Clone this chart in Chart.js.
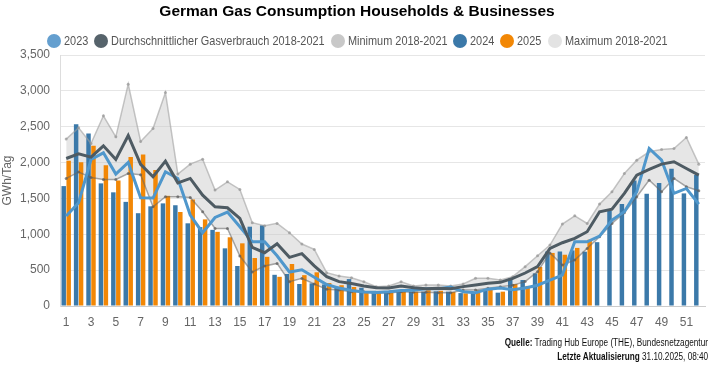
<!DOCTYPE html>
<html><head><meta charset="utf-8">
<script src="https://cdn.jsdelivr.net/npm/chart.js@4.4.0/dist/chart.umd.min.js"></script>
<style>
html,body{margin:0;padding:0;background:#fff;width:714px;height:366px;overflow:hidden;font-family:'Liberation Sans',Arial,sans-serif;}
#wrap{position:relative;width:714px;height:366px;}
canvas{position:absolute;left:0;top:0;}
#title{position:absolute;top:2px;left:0;width:714px;text-align:center;font:bold 15.5px 'Liberation Sans',Arial,sans-serif;color:#000;}
#legend{position:absolute;top:33px;left:0;width:714px;display:flex;justify-content:center;align-items:center;font-size:13px;color:#555;}
.item{display:flex;align-items:center;margin:0 3px;white-space:nowrap;}
.dot{width:14px;height:14px;border-radius:50%;margin-right:3px;display:inline-block;flex:none;}
.txt{display:inline-block;transform-origin:left center;}
#src{position:absolute;right:6px;top:336px;font-size:10px;text-align:right;line-height:14px;color:#111;}
#src div span{display:inline-block;transform:scaleX(0.82);transform-origin:right center;white-space:nowrap;}
</style></head>
<body><div id="wrap">
<canvas id="c" width="714" height="366"></canvas>
<div id="title">German Gas Consumption Households &amp; Businesses</div>
<div id="legend"></div>
<div id="src"><div><span><b>Quelle:</b> Trading Hub Europe (THE), Bundesnetzagentur</span></div><div><span><b>Letzte Aktualisierung</b> 31.10.2025, 08:40</span></div></div>
</div>
<script>
const weeks = ['1','2','3','4','5','6','7','8','9','10','11','12','13','14','15','16','17','18','19','20','21','22','23','24','25','26','27','28','29','30','31','32','33','34','35','36','37','38','39','40','41','42','43','44','45','46','47','48','49','50','51','52'];
const shownTicks = ['1','3','5','7','9','11','13','15','17','19','21','23','25','27','29','31','33','35','37','39','41','43','45','47','49','51'];
const yTicks = [0,500,1000,1500,2000,2500,3000,3500];

const data2023 = [1254,1440,2043,2136,1839,2002,1509,1505,1872,1779,1268,1022,1235,1310,1105,896,896,700,474,505,400,300,250,215,195,190,200,215,220,240,240,265,200,185,235,250,228,250,290,360,432,896,896,975,1198,1314,1593,2197,2034,1570,1639,1421];
const avg1821 = [2057,2122,2076,2234,2043,2378,1974,1802,2020,1718,1779,1546,1384,1370,1221,817,743,868,678,730,560,410,340,315,279,255,250,280,255,240,246,240,270,293,316,330,385,460,549,803,882,943,1036,1314,1351,1570,1825,1904,1978,2011,1918,1825];
const min1821 = [1779,1867,1793,1765,1765,1848,1830,1384,1523,1523,1514,1314,1082,1082,697,474,557,594,339,385,307,232,223,200,200,186,180,200,190,190,186,186,223,223,246,270,290,340,479,740,571,641,803,966,1152,1300,1523,1755,1593,1779,1663,1607];
const data2024 = [1672,2536,2405,1710,1585,1452,1294,1390,1431,1405,1153,1100,1062,804,558,1106,1125,435,446,307,316,300,270,375,255,200,200,215,200,200,205,200,180,190,220,186,385,362,455,760,760,775,758,890,1335,1422,1750,1565,1715,1915,1570,1825];
const data2025 = [2026,2005,2235,1963,1750,2077,2114,1896,1536,1311,1485,1208,1034,958,874,669,686,407,586,430,470,320,290,265,190,200,186,220,200,220,212,195,177,223,232,200,306,280,545,740,715,810,925,null,null,null,null,null,null,null,null,null];
const max1821 = [2327,2485,2266,2652,2359,3093,2294,2475,2977,1839,1978,2048,1616,1732,1625,1161,1119,1152,1022,864,789,464,418,395,339,270,280,339,280,293,293,280,307,386,386,363,409,549,700,850,1142,1258,1152,1421,1593,1848,2034,2150,2183,2197,2350,1978];

const seriesNames = ['2023','Durchschnittlicher Gasverbrauch 2018-2021','Minimum 2018-2021','2024','2025','Maximum 2018-2021'];
const legendColors = ['#649fcf','#56636b','#c8c8c8','#3b79a9','#f28705','#e3e3e3'];

const lg = document.getElementById('legend');
const SX = 0.84;
seriesNames.forEach((n,i)=>{
  const it=document.createElement('div');it.className='item';
  const d=document.createElement('span');d.className='dot';d.style.background=legendColors[i];
  const t=document.createElement('span');t.className='txt';t.textContent=n;
  it.appendChild(d);it.appendChild(t);lg.appendChild(it);
  const w=t.getBoundingClientRect().width;
  t.style.transform='scaleX('+SX+')';
  t.style.marginRight=(-w*(1-SX))+'px';
});

Chart.defaults.font.family = "'Liberation Sans',Arial,sans-serif";
Chart.defaults.font.size = 12;
Chart.defaults.color = '#666';

new Chart(document.getElementById('c'), {
  data: {
    labels: weeks,
    datasets: [
      {type:'line', label:seriesNames[0], data:data2023, borderColor:'#4f97cc', backgroundColor:legendColors[0], borderWidth:3, pointRadius:0, tension:0, order:1},
      {type:'line', label:seriesNames[1], data:avg1821, borderColor:'#4e5b63', backgroundColor:legendColors[1], borderWidth:3, pointRadius:0, tension:0, order:0},
      {type:'line', label:seriesNames[2], data:min1821, borderColor:'rgba(100,100,100,0.55)', backgroundColor:'rgba(100,100,100,0.6)', borderWidth:1.5, pointRadius:1.5, pointBorderWidth:0, pointBackgroundColor:'rgba(90,90,90,0.7)', tension:0, fill:false, order:2},
      {type:'bar', label:seriesNames[3], data:data2024, backgroundColor:'#3b79a9', categoryPercentage:0.8, barPercentage:0.9, order:3},
      {type:'bar', label:seriesNames[4], data:data2025, backgroundColor:'#f28705', categoryPercentage:0.8, barPercentage:0.9, order:3},
      {type:'line', label:seriesNames[5], data:max1821, borderColor:'rgba(160,160,160,0.6)', backgroundColor:'rgba(200,200,200,0.45)', borderWidth:1.5, pointRadius:1.5, pointBorderWidth:0, pointBackgroundColor:'rgba(150,150,150,0.7)', tension:0, fill:{target:2}, order:2}
    ]
  },
  options: {
    responsive:false, animation:false,
    layout:{padding:{top:55,right:9,left:0,bottom:0}},
    plugins:{legend:{display:false}, title:{display:false}, tooltip:{enabled:false}, filler:{drawTime:'beforeDatasetsDraw'}},
    scales:{
      x:{
        grid:{display:false, drawTicks:false},
        border:{display:true,color:'#ccc'},
        ticks:{autoSkip:false,maxRotation:0,minRotation:0,padding:9,color:'#666',
          callback:function(v,i){const l=weeks[i];return shownTicks.includes(l)?l:'';}},
        afterFit:function(s){s.height=60;}
      },
      y:{
        min:0,max:3500,
        grid:{color:'#e6e6e6',drawTicks:false},
        border:{display:true,color:'#ddd'},
        afterBuildTicks:function(s){s.ticks=yTicks.map(v=>({value:v}));},
        ticks:{padding:10,color:'#666',callback:v=>v.toLocaleString('en-US')},
        title:{display:true,text:'GWh/Tag',color:'#666',font:{size:12},padding:{top:0,bottom:0}},
        afterFit:function(s){s.width=60;}
      }
    }
  }
});
</script>
</body></html>
